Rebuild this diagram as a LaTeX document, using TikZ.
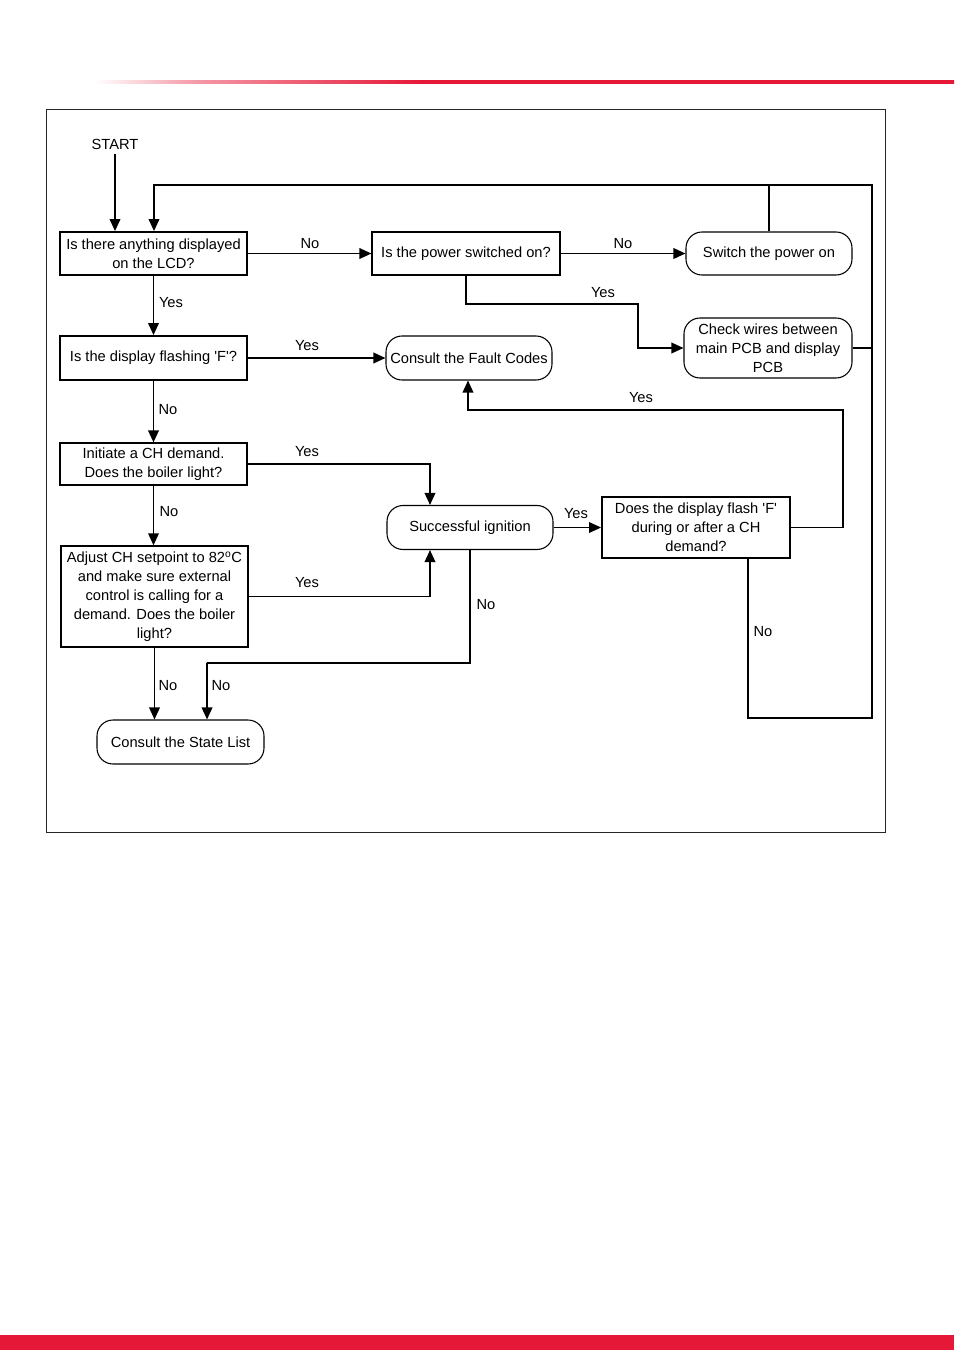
\documentclass[tikz,border=0pt]{standalone}
\usepackage{fontspec}
\setmainfont{Liberation Sans}
\usetikzlibrary{arrows.meta}
\definecolor{brandred}{RGB}{230,24,56}
\pgfdeclarehorizontalshading{redfade}{100bp}{color(0bp)=(white); color(25bp)=(white); color(31bp)=(brandred!45); color(44bp)=(brandred); color(100bp)=(brandred)}

\begin{document}
\begin{tikzpicture}[x=0.75pt,y=-0.75pt,font=\fontsize{11}{14.25}\selectfont,
  box/.style={draw,line width=0.9pt,align=center,inner sep=2pt,minimum height=32.25pt},
  thickbox/.style={box,line width=1.4pt},
  endbox/.style={box,rounded corners=12pt,line width=0.8pt},
  link/.style={line width=1.1pt},
  arr/.style={link,-{Triangle[length=9pt,width=8pt]}},
  lbl/.style={inner sep=0pt}]
\useasboundingbox (0,0) rectangle (954,1350);
\shade[shading=redfade] (95,80.5) rectangle (954,83.5);
\fill[brandred] (0,1335) rectangle (954,1350);
\draw[line width=0.7pt,black!85] (46,109) rectangle (885,832);

\node (start) at (115,144) {START};
\node[thickbox,minimum width=140.25pt] (disp) at (153.5,253.5) {Is there anything displayed\\on the LCD?};
\node[box,minimum width=141pt] (power) at (466,253.5) {Is the power switched on?};
\node[endbox,minimum width=124.5pt] (swon) at (769,253.5) {Switch the power on};
\node[thickbox,minimum width=140.25pt,minimum height=33pt] (flash) at (153.5,358) {Is the display flashing \textquotesingle F\textquotesingle?};
\node[endbox,minimum width=124.5pt,minimum height=33pt] (fault) at (469,358) {Consult the Fault Codes};
\node[endbox,minimum width=126pt,minimum height=45pt] (wires) at (768,348) {Check wires between\\main PCB and display\\PCB};
\node[box,minimum width=140.25pt,minimum height=31.5pt] (chd) at (153.5,464) {Initiate a CH demand.\\Does the boiler light?};
\node[endbox,minimum width=124.5pt,minimum height=33pt] (ign) at (470,527.5) {Successful ignition};
\node[thickbox,minimum width=141pt,minimum height=45.75pt] (fdem) at (696,527.5) {Does the display flash \textquotesingle F\textquotesingle\\during or after a CH\\demand?};
\node[thickbox,line width=1.1pt,minimum width=140.25pt,minimum height=75.75pt] (setp) at (154.5,596.5) {Adjust CH setpoint to 82\textsuperscript{o}C\\and make sure external\\control is calling for a\\demand. Does the boiler\\light?};
\node[endbox,minimum width=125.25pt,minimum height=33pt] (state) at (180.5,742) {Consult the State List};

\coordinate (tl) at (154,185);
\coordinate (tr) at (872,185);
\coordinate (br) at (872,718);
\coordinate (bl) at (748,718);

\draw[arr] (start.south) -- (disp.north -| start.south);
\draw[arr] (fdem.south -| bl) -- (bl) -- (br) -- (tr) -- (tl) -- (disp.north -| tl);
\draw[link] (swon.north) -- (swon.north |- tl);
\draw[link] (wires.east) -- (wires.east -| tr);
\draw[arr] (disp.east) -- (power.west);
\draw[arr] (power.east) -- (swon.west);
\draw[arr] (power.south) |- (638,304) |- (wires.west);
\draw[arr] (disp.south) -- (flash.north);
\draw[arr] (flash.east) -- (fault.west);
\draw[arr] (flash.south) -- (chd.north);
\draw[arr] (chd.east) -| ([xshift=-30pt]ign.north);
\draw[arr] (chd.south) -- (chd.south |- setp.north);
\draw[arr] (setp.east) -| ([xshift=-30pt]ign.south);
\draw[arr] (ign.east) -- (fdem.west);
\draw[arr] (fdem.east) -| (843,410) -| ([xshift=-0.75pt]fault.south);
\draw[arr] (ign.south) |- (207,663) -| ([xshift=19.9pt]state.north);
\draw[arr] (setp.south) -- (setp.south |- state.north);

\node[lbl] (no1) at (310,244) {No};
\node[lbl] (no2) at (623,244) {No};
\node[lbl] (yes1) at (603,293) {Yes};
\node[lbl] (yes2) at (171,303) {Yes};
\node[lbl] (yes3) at (307,346) {Yes};
\node[lbl] (yes4) at (641,398) {Yes};
\node[lbl] (no3) at (168,410) {No};
\node[lbl] (yes5) at (307,452) {Yes};
\node[lbl] (no4) at (169,512) {No};
\node[lbl] (yes6) at (576,514) {Yes};
\node[lbl] (yes7) at (307,583) {Yes};
\node[lbl] (no5) at (486,605) {No};
\node[lbl] (no6) at (763,632) {No};
\node[lbl] (no7) at (168,686) {No};
\node[lbl] (no8) at (221,686) {No};
\end{tikzpicture}
\end{document}
